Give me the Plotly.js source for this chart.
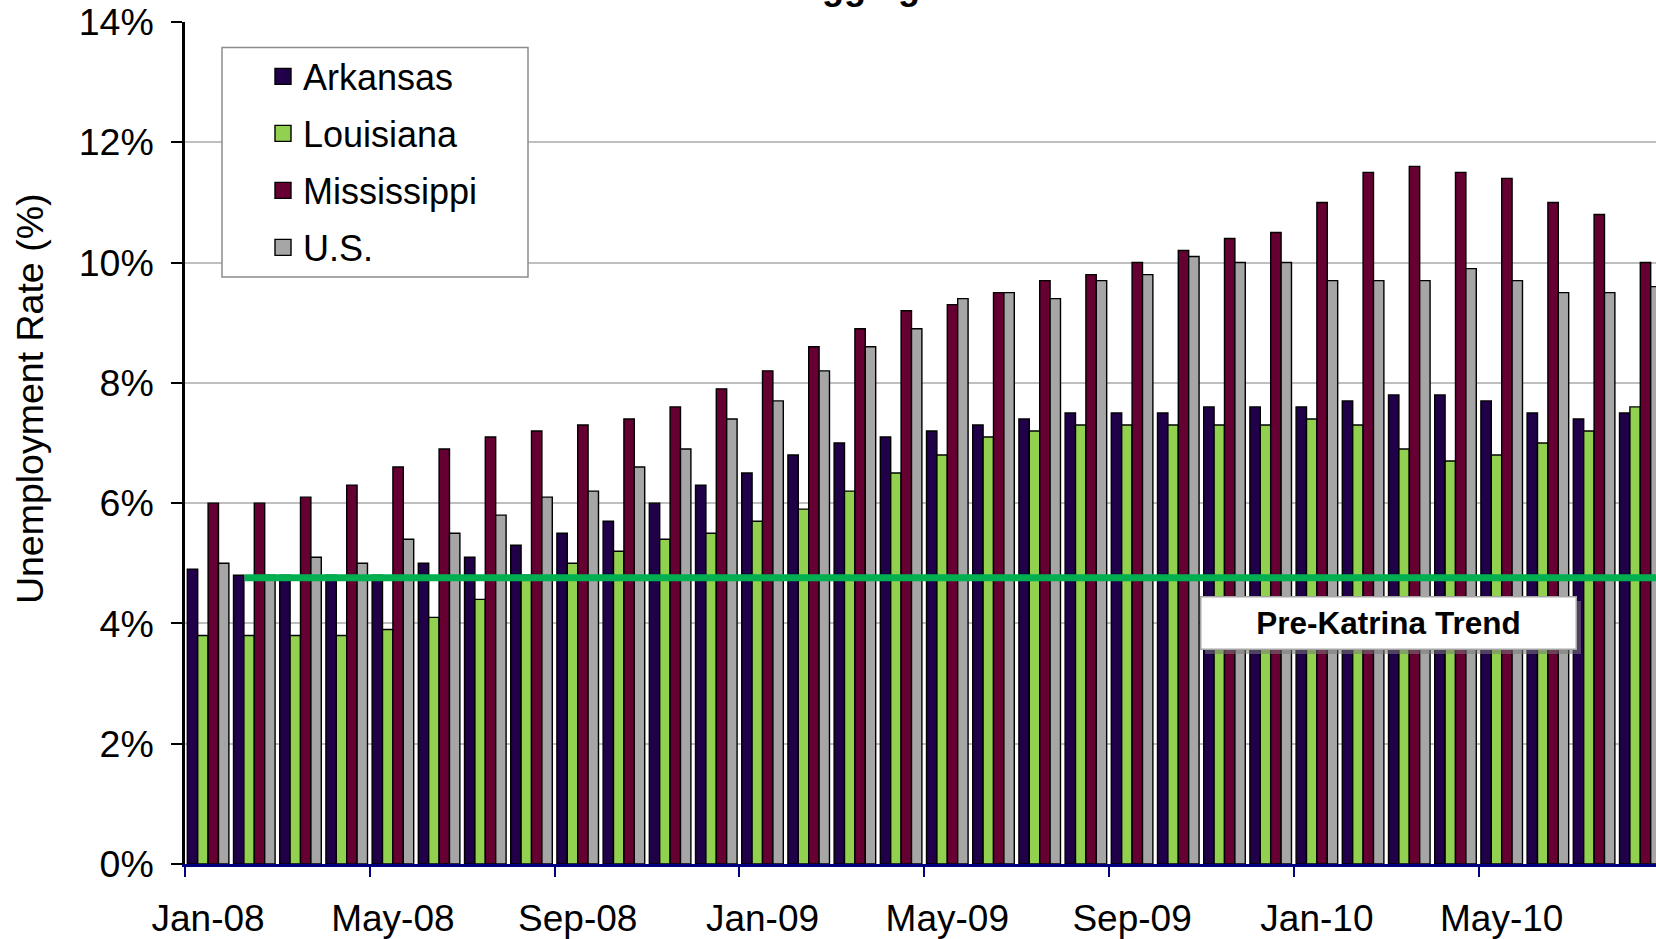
<!DOCTYPE html>
<html>
<head>
<meta charset="utf-8">
<script src="https://cdn.plot.ly/plotly-3.0.1.min.js"></script>
<style>
  html, body { margin: 0; padding: 0; background: #ffffff; overflow: hidden; }
  #chart { width: 1656px; height: 939px; }
</style>
</head>
<body>
<div id="chart"></div>
<script>
// Monthly unemployment rates (%), January 2008 onward
const months = [
  "Jan-08","Feb-08","Mar-08","Apr-08","May-08","Jun-08","Jul-08","Aug-08",
  "Sep-08","Oct-08","Nov-08","Dec-08","Jan-09","Feb-09","Mar-09","Apr-09",
  "May-09","Jun-09","Jul-09","Aug-09","Sep-09","Oct-09","Nov-09","Dec-09",
  "Jan-10","Feb-10","Mar-10","Apr-10","May-10","Jun-10","Jul-10","Aug-10"
];
const arkansas = [
  4.9, 4.8, 4.8, 4.8, 4.8, 5.0, 5.1, 5.3,
  5.5, 5.7, 6.0, 6.3, 6.5, 6.8, 7.0, 7.1,
  7.2, 7.3, 7.4, 7.5, 7.5, 7.5, 7.6, 7.6,
  7.6, 7.7, 7.8, 7.8, 7.7, 7.5, 7.4, 7.5
];
const louisiana = [
  3.8, 3.8, 3.8, 3.8, 3.9, 4.1, 4.4, 4.8,
  5.0, 5.2, 5.4, 5.5, 5.7, 5.9, 6.2, 6.5,
  6.8, 7.1, 7.2, 7.3, 7.3, 7.3, 7.3, 7.3,
  7.4, 7.3, 6.9, 6.7, 6.8, 7.0, 7.2, 7.6
];
const mississippi = [
  6.0, 6.0, 6.1, 6.3, 6.6, 6.9, 7.1, 7.2,
  7.3, 7.4, 7.6, 7.9, 8.2, 8.6, 8.9, 9.2,
  9.3, 9.5, 9.7, 9.8, 10.0, 10.2, 10.4, 10.5,
  11.0, 11.5, 11.6, 11.5, 11.4, 11.0, 10.8, 10.0
];
const us = [
  5.0, 4.8, 5.1, 5.0, 5.4, 5.5, 5.8, 6.1,
  6.2, 6.6, 6.9, 7.4, 7.7, 8.2, 8.6, 8.9,
  9.4, 9.5, 9.4, 9.7, 9.8, 10.1, 10.0, 10.0,
  9.7, 9.7, 9.7, 9.9, 9.7, 9.5, 9.5, 9.6
];
const seriesNames = ["Arkansas", "Louisiana", "Mississippi", "U.S."];
const seriesColors = ["#200048", "#92D050", "#660033", "#A6A6A6"];
const seriesValues = [arkansas, louisiana, mississippi, us];

// Pre-Katrina trend level and where the line begins (category index)
const trendLevel = 4.76;
const trendStart = 0.79;
const trendLabel = "Pre-Katrina Trend";
const yTicks = [0, 2, 4, 6, 8, 10, 12, 14];

const FONT = "Liberation Sans, Arial, Helvetica, sans-serif";

// page geometry (px)
const W = 1656, H = 939;
const M = { l: 185, r: 0, t: 22, b: 75 };
const plotW = W - M.l - M.r, plotH = H - M.t - M.b;
const px2x = p => (p - M.l) / plotW;
const px2y = p => (H - M.b - p) / plotH;

// the bars themselves
const barTraces = seriesNames.map((name, i) => ({
  type: "bar",
  name: name,
  x: months,
  y: seriesValues[i],
  showlegend: false,
  marker: { color: seriesColors[i], line: { color: "#000000", width: 1.4 } },
  hoverinfo: "x+y+name"
}));

// legend keys: larger square swatches than the default bar key
const keyTraces = seriesNames.map((name, i) => ({
  type: "scatter",
  mode: "markers",
  name: name,
  x: [months[0]],
  y: [null],
  legendgroup: "g" + i,
  showlegend: true,
  hoverinfo: "skip",
  marker: { symbol: "square", size: 16, color: seriesColors[i], line: { color: "#000000", width: 1.4 } }
}));

const layout = {
  width: W,
  height: H,
  margin: M,
  paper_bgcolor: "#ffffff",
  plot_bgcolor: "#ffffff",
  font: { family: FONT, size: 36, color: "#000000" },
  barmode: "group",
  bargap: 0.1,
  bargroupgap: 0,
  showlegend: true,
  legend: {
    x: px2x(263), xanchor: "left",
    y: px2y(46.5), yanchor: "top",
    bgcolor: "rgba(0,0,0,0)",
    borderwidth: 0,
    tracegroupgap: 7.2,
    itemsizing: "trace",
    font: { family: FONT, size: 36, color: "#000000" }
  },
  xaxis: {
    type: "category",
    categoryorder: "array",
    categoryarray: months,
    range: [-0.5, 31.34],
    tickmode: "linear",
    tick0: 0,
    dtick: 4,
    tickangle: 0,
    tickson: "boundaries",
    ticks: "outside",
    ticklen: 10,
    tickwidth: 2,
    tickcolor: "#000080",
    showline: true,
    linecolor: "#000080",
    linewidth: 3,
    showgrid: false,
    zeroline: false,
    ticklabelstandoff: 20,
    tickfont: { family: FONT, size: 37, color: "#000000" }
  },
  yaxis: {
    range: [0, 14],
    tickmode: "array",
    tickvals: yTicks,
    ticktext: yTicks.map(v => v + "%"),
    ticks: "outside",
    ticklen: 11,
    tickwidth: 2,
    tickcolor: "#000000",
    showline: true,
    linecolor: "#000000",
    linewidth: 2.5,
    showgrid: true,
    gridcolor: "#BFBFBF",
    gridwidth: 2,
    zeroline: false,
    ticklabelstandoff: 10,
    tickfont: { family: FONT, size: 37.5, color: "#000000" }
  },
  shapes: [
    // legend frame
    {
      type: "rect", xref: "paper", yref: "paper", layer: "above",
      x0: px2x(222), x1: px2x(528), y0: px2y(277), y1: px2y(47.5),
      fillcolor: "#ffffff",
      line: { color: "#8C8C8C", width: 1.5 }
    },
    // trend line
    {
      type: "line", xref: "x", yref: "y", layer: "above",
      x0: trendStart, x1: 40, y0: trendLevel, y1: trendLevel,
      line: { color: "#00B050", width: 7 }
    },
    // soft shadow behind the trend label
    {
      type: "rect", xref: "x", yref: "y", layer: "above",
      xsizemode: "pixel", ysizemode: "pixel",
      xanchor: 25.56, yanchor: 4.0,
      x0: -184, x1: 192, y0: -30.5, y1: 22.5,
      fillcolor: "rgba(120,120,120,0.55)",
      line: { width: 0 }
    }
  ],
  annotations: [
    {
      text: "Unemployment Rate (%)",
      xref: "paper", yref: "paper",
      x: px2x(29.6), y: px2y(398.5),
      xanchor: "center", yanchor: "middle",
      textangle: -90,
      showarrow: false,
      font: { family: FONT, size: 37.5, color: "#000000" }
    },
    {
      text: "<b>Lagging</b>",
      xref: "paper", yref: "paper",
      x: px2x(849.5), y: px2y(-13.4),
      xanchor: "center", yanchor: "middle",
      showarrow: false,
      font: { family: FONT, size: 36, color: "#000000" }
    },
    {
      text: "<b>" + trendLabel + "</b>",
      xref: "x", yref: "y",
      x: 25.56, y: 4.0,
      xanchor: "center", yanchor: "middle",
      showarrow: false,
      width: 372, height: 49,
      bgcolor: "#ffffff",
      bordercolor: "#A6A6A6",
      borderwidth: 1.5,
      borderpad: 1,
      font: { family: FONT, size: 31.5, color: "#000000" }
    }
  ]
};

Plotly.newPlot("chart", barTraces.concat(keyTraces), layout, { displayModeBar: false, responsive: false });
</script>
</body>
</html>
